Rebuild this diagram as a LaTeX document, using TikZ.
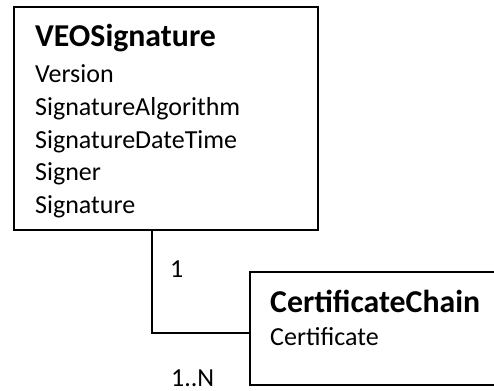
\documentclass[tikz,border=0pt]{standalone}
\usepackage{fontspec}
\setmainfont{Carlito}
\begin{document}
\begin{tikzpicture}[x=1pt,y=-1pt,
  box/.style={draw, line width=1.6pt, inner sep=0pt, outer sep=0pt, fill=white},
  ttl/.style={anchor=base west, inner sep=0pt, font=\fontsize{31.8}{36}\selectfont\bfseries},
  attr/.style={anchor=base west, inner sep=0pt, font=\fontsize{26}{31}\selectfont},
  conn/.style={line width=1.3pt}]
\useasboundingbox (0,0) rectangle (494,390);
\clip (0,0) rectangle (494,390);
\node[box, minimum width=304pt, minimum height=223pt, anchor=north west] (veo) at (14,7) {};
\node[box, minimum width=270pt, minimum height=113pt, anchor=north west] (cc) at (250,272) {};
\node[ttl] (veot) at (35,47) {VEOSignature};
\node[attr] (a1) at (35,83) {Version};
\node[attr] (a2) at (35,115.5) {SignatureAlgorithm};
\node[attr] (a3) at (35,148) {SignatureDateTime};
\node[attr] (a4) at (35,180.5) {Signer};
\node[attr] (a5) at (35,213) {Signature};
\node[ttl] (cct) at (270,312) {CertificateChain};
\node[attr] (c1) at (270,345) {Certificate};
\coordinate (bend) at (152,333);
\draw[conn] (veo.south -| bend) |- (cc.west |- bend);
\node[attr] (m1) at (170,277) {1};
\node[attr, text depth=0pt] (mn) at (171,386) {1..N};
\end{tikzpicture}
\end{document}
